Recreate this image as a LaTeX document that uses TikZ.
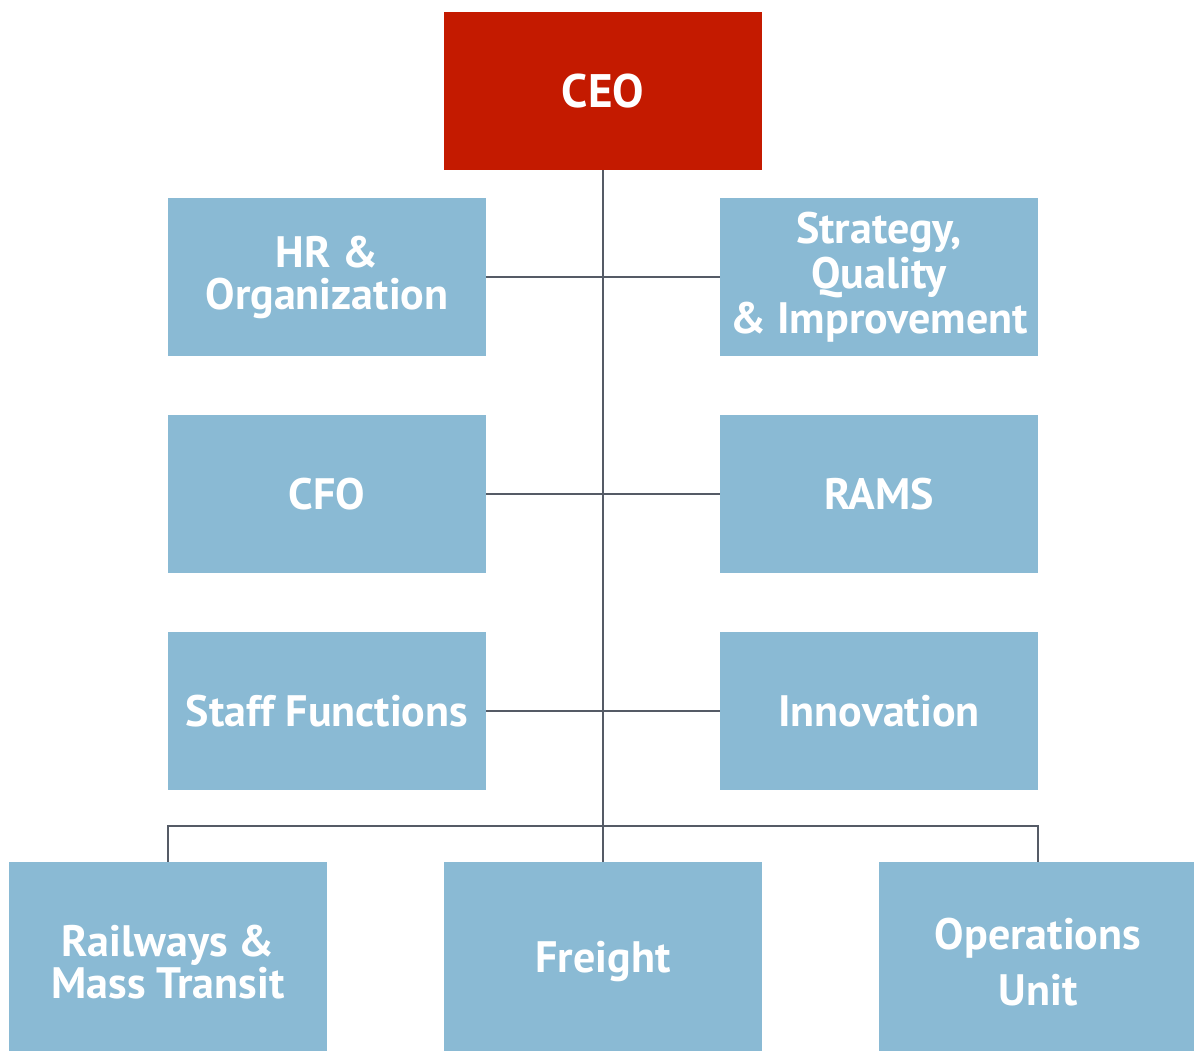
\documentclass[tikz,border=0pt]{standalone}
\usepackage{fontspec}
\setmainfont{PT Sans}
\usepackage{tikz}
\usetikzlibrary{positioning}
\definecolor{ceored}{RGB}{196,26,0}
\definecolor{unitblue}{RGB}{138,186,212}
\definecolor{linkgray}{RGB}{85,91,102}
\tikzset{
  unit/.style={fill=unitblue,text=white,font=\fontsize{44}{42}\selectfont\bfseries,
    minimum width=318pt,minimum height=158pt,inner sep=0pt,align=center},
  link/.style={draw=linkgray,line width=2.6pt}
}
\begin{document}
\begin{tikzpicture}[x=1pt,y=-1pt]
\useasboundingbox (0,0) rectangle (1194,1050);
% direction
\node[unit,fill=ceored,font=\fontsize{47}{48}\selectfont\bfseries](ceo)at(603,91){CEO};
% staff around the CEO
\node[unit](hr)at(327,277){HR \&\\Organization};
\node[unit,font=\fontsize{44}{45}\selectfont\bfseries](strat)at(879,277){Strategy,\\Quality\\\& Improvement};
\node[unit](cfo)at(327,494){CFO};
\node[unit](rams)at(879,494){RAMS};
\node[unit](staff)at(327,711){Staff Functions};
\node[unit](innov)at(879,711){Innovation};
% business units
\node[unit,minimum height=200pt](rail)at(168,962){Railways \&\\Mass Transit};
\node[unit,minimum height=200pt](freight)at(603,962){Freight};
\node[unit,minimum height=200pt,font=\fontsize{44}{56}\selectfont\bfseries](ops)at(1038,962){Operations\\Unit};
% links
\draw[link](ceo.south)--(freight.north);
\draw[link](hr.east)--(strat.west);
\draw[link](cfo.east)--(rams.west);
\draw[link](staff.east)--(innov.west);
\draw[link](rail.north)--++(0,-36)-|(ops.north);
\end{tikzpicture}
\end{document}
